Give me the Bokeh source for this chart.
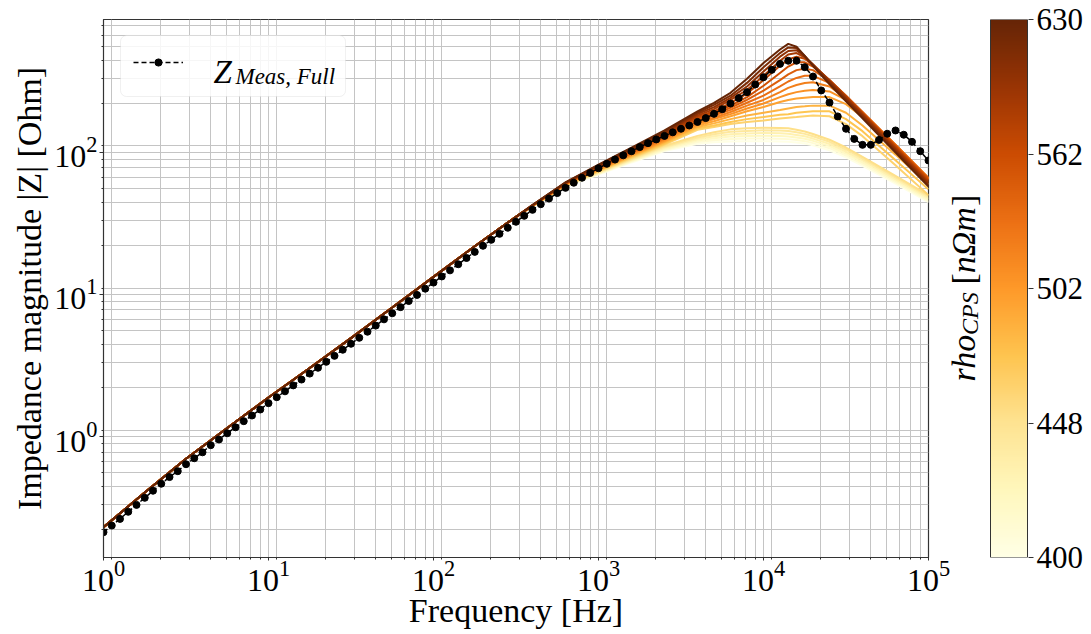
import numpy as np
from bokeh.plotting import figure
from bokeh.layouts import row
from bokeh.models import (Range1d, Legend, LegendItem, Label, LogTicker, FixedTicker,
                          PrintfTickFormatter, BoxAnnotation, LinearColorMapper)
from bokeh.palettes import YlOrBr9
from bokeh.core.properties import value
from bokeh.embed import file_html
from bokeh.resources import INLINE

# ---------------- data ----------------
# measurement: 20 points per decade from 1 Hz to 100 kHz
f_meas = np.logspace(0, 5, 101)
z_meas = [0.212, 0.236, 0.263, 0.295, 0.330, 0.370, 0.415, 0.465, 0.518, 0.570,
          0.638, 0.703, 0.774, 0.869, 0.953, 1.054, 1.161, 1.282, 1.406, 1.549,
          1.718, 1.892, 2.080, 2.291, 2.518, 2.773, 3.048, 3.357, 3.698, 4.083,
          4.498, 4.955, 5.470, 6.039, 6.683, 7.379, 8.147, 8.995, 9.931, 10.99,
          12.13, 13.40, 14.79, 16.33, 18.07, 19.95, 22.03, 24.27, 26.73, 29.51,
          32.51, 35.81, 39.45, 43.25, 47.42, 51.76, 56.36, 61.24, 66.37, 71.78,
          77.45, 83.18, 89.13, 95.50, 102.1, 109.1, 116.4, 123.6, 130.9, 138.7,
          146.9, 154.9, 164.1, 174.6, 187.1, 201.8, 221.3, 241.5, 266.1, 301.3,
          338.8, 381.9, 420.7, 442.6, 442.6, 398.9, 342.8, 273.5, 224.9, 179.5,
          146.9, 124.7, 113.2, 113.2, 122.7, 135.5, 142.9, 133.4, 118.9, 102.1,
          87.9]

# simulated curves: common low-frequency part
f_model_low = [1.0, 1.778, 3.162, 5.623, 10.0, 17.78, 31.62, 56.23, 100.0, 177.8, 316.2]
z_model_low = [0.2296, 0.4036, 0.6966, 1.148, 1.884, 3.037, 4.932, 8.091, 13.30, 21.88, 35.24]

# simulated curves: high-frequency part (one list per rho_CPS value)
f_model_high = [398.1, 631.0, 1000.0, 1585.0, 2512.0, 3981.0, 5012.0, 6310.0, 7943.0, 10000.0,
                12589.0, 14125.0, 15849.0, 17783.0, 19953.0, 25119.0, 31623.0, 39811.0,
                63096.0, 100000.0]

rho_values = [630, 615, 601, 587, 573, 559, 546, 533, 521, 508,
              496, 485, 473, 462, 451, 441, 430, 420, 410, 400]

z_630 = [42.66, 61.66, 82.22, 108.4, 142.9, 195.0, 223.9, 263.0, 331.1, 426.6, 530.9, 582.1, 555.9, 478.6, 407.4, 302.0, 229.1, 173.8, 100.0, 57.5]
z_615 = [42.56, 61.38, 81.47, 106.9, 140.3, 190.5, 216.3, 251.2, 309.0, 398.1, 501.2, 549.5, 543.3, 478.6, 412.1, 309.0, 234.4, 177.8, 102.3, 58.9]
z_601 = [42.56, 61.24, 80.91, 105.7, 138.0, 186.2, 208.9, 242.7, 291.7, 371.5, 473.1, 518.8, 524.8, 473.1, 416.9, 316.2, 239.9, 182.0, 104.7, 60.3]
z_587 = [42.46, 60.95, 80.17, 104.2, 135.5, 182.0, 201.8, 234.4, 275.4, 346.7, 441.6, 489.8, 501.2, 467.7, 416.9, 319.9, 245.5, 186.2, 107.2, 61.7]
z_573 = [42.36, 60.81, 79.43, 103.0, 133.0, 177.8, 195.0, 223.9, 260.0, 323.6, 407.4, 451.9, 473.1, 457.1, 412.1, 323.6, 248.3, 188.4, 109.6, 63.1]
z_559 = [42.36, 60.53, 78.89, 101.6, 130.9, 173.8, 190.5, 213.8, 245.5, 295.1, 363.1, 402.7, 431.5, 431.5, 402.7, 323.6, 251.2, 190.5, 110.9, 64.6]
z_546 = [42.27, 60.39, 78.16, 100.5, 128.5, 169.8, 186.2, 206.5, 234.4, 272.3, 323.6, 354.8, 380.2, 389.0, 380.2, 319.9, 251.2, 192.8, 112.2, 65.3]
z_533 = [42.27, 60.12, 77.45, 99.08, 126.5, 166.0, 182.0, 199.5, 223.9, 251.2, 291.7, 316.2, 335.0, 346.7, 346.7, 309.0, 248.3, 192.8, 113.5, 66.1]
z_521 = [42.17, 59.84, 76.91, 97.95, 124.2, 162.2, 175.8, 192.8, 213.8, 234.4, 266.1, 285.1, 298.5, 309.0, 312.6, 291.7, 242.7, 190.5, 113.5, 66.1]
z_508 = [42.07, 59.70, 76.21, 96.61, 121.9, 158.5, 171.8, 186.2, 204.2, 221.3, 245.5, 257.0, 266.1, 272.3, 275.4, 269.2, 234.4, 186.2, 112.2, 65.3]
z_496 = [42.07, 59.43, 75.51, 95.50, 119.9, 154.9, 166.0, 179.9, 195.0, 208.9, 226.5, 234.4, 239.9, 242.7, 245.5, 245.5, 218.8, 177.8, 109.6, 64.6]
z_485 = [41.98, 59.29, 74.82, 94.19, 117.8, 151.4, 160.3, 171.8, 182.0, 190.5, 199.5, 204.2, 208.9, 211.3, 213.8, 213.8, 190.5, 154.9, 96.6, 59.6]
z_473 = [41.88, 59.02, 74.30, 93.11, 115.6, 147.9, 154.9, 164.1, 171.8, 177.8, 184.1, 186.2, 190.5, 192.8, 195.0, 195.0, 171.8, 141.3, 88.1, 55.0]
z_462 = [41.88, 58.75, 73.62, 91.83, 113.8, 144.5, 151.4, 158.5, 164.1, 167.9, 173.8, 175.8, 177.8, 179.9, 182.0, 179.9, 158.5, 130.3, 81.3, 50.1]
z_451 = [41.78, 58.61, 72.95, 90.78, 111.7, 130.9, 138.7, 145.5, 147.9, 149.6, 148.9, 147.9, 144.5, 140.6, 134.9, 123.0, 108.4, 93.3, 68.4, 50.1]
z_441 = [41.78, 58.34, 72.44, 89.54, 109.9, 127.6, 134.3, 140.0, 141.9, 143.2, 142.6, 141.6, 138.7, 135.2, 130.0, 118.9, 105.0, 90.6, 66.7, 49.0]
z_430 = [41.69, 58.21, 71.78, 88.51, 107.9, 124.5, 130.0, 134.6, 136.1, 137.1, 136.5, 135.5, 133.0, 130.0, 125.3, 114.8, 101.6, 87.9, 65.0, 47.9]
z_420 = [41.59, 57.94, 71.12, 87.30, 105.9, 121.3, 125.9, 129.4, 130.6, 131.2, 130.6, 129.7, 127.6, 125.0, 120.8, 110.9, 98.4, 85.3, 63.4, 46.8]
z_410 = [41.59, 57.81, 70.63, 86.30, 104.2, 118.3, 121.9, 124.5, 125.3, 125.6, 125.0, 124.2, 122.5, 120.2, 116.4, 107.2, 95.3, 82.8, 61.8, 45.7]
z_400 = [41.50, 57.54, 69.98, 85.11, 102.3, 115.3, 118.0, 119.7, 120.2, 120.2, 119.7, 118.9, 117.5, 115.6, 112.2, 103.5, 92.3, 80.4, 60.3, 44.7]

z_model_high = [z_630, z_615, z_601, z_587, z_573, z_559, z_546, z_533, z_521, z_508,
                z_496, z_485, z_473, z_462, z_451, z_441, z_430, z_420, z_410, z_400]

cbar_ticks = [400, 448, 502, 562, 630]
rho_low, rho_high = 400, 630

# ---------------- colours ----------------
def interp_palette(pal, n):
    rgb = np.array([[int(c[i:i + 2], 16) for i in (1, 3, 5)] for c in pal], float)
    xs = np.linspace(0, 1, len(pal))
    t = np.linspace(0, 1, n)
    out = np.stack([np.interp(t, xs, rgb[:, k]) for k in range(3)], 1)
    return ["#%02x%02x%02x" % tuple(int(round(v)) for v in r) for r in out]

palette = interp_palette(list(YlOrBr9)[::-1], 256)   # light -> dark

def rho_color(r):
    t = (np.log(r) - np.log(rho_low)) / (np.log(rho_high) - np.log(rho_low))
    return palette[int(round(t * 255))]

SERIF = "Liberation Serif"

# ---------------- main figure ----------------
p = figure(width=950, height=634, x_axis_type="log", y_axis_type="log",
           x_range=Range1d(1, 1e5), y_range=Range1d(0.1406, 864),
           output_backend="svg", toolbar_location=None,
           min_border_left=103, min_border_right=22, min_border_top=19, min_border_bottom=77,
           background_fill_color="white", border_fill_color="white")

p.outline_line_color = "#333333"
p.outline_line_width = 1.2

for ax in (p.xaxis[0], p.yaxis[0]):
    ax.ticker = LogTicker(num_minor_ticks=9)
    ax.major_label_text_font = SERIF
    ax.major_label_text_font_size = "32px"
    ax.major_label_text_color = "black"
    ax.axis_label_text_font = SERIF
    ax.axis_label_text_font_size = "34px"
    ax.axis_label_text_font_style = "normal"
    ax.axis_label_text_color = "black"
    ax.axis_line_color = "#333333"
    ax.major_tick_line_color = "#333333"
    ax.minor_tick_line_color = "#333333"
    ax.major_tick_in = 0
    ax.minor_tick_out = 2
    ax.minor_tick_in = 0

p.xaxis.major_tick_out = 3
p.xaxis.major_label_standoff = 0
p.yaxis.major_tick_out = 4
p.yaxis.major_label_standoff = 2

p.xaxis.axis_label = "Frequency [Hz]"
p.yaxis.axis_label = "Impedance magnitude |Z| [Ohm]"
p.xaxis.axis_label_standoff = -2
p.yaxis.axis_label_standoff = 3

for g in (p.xgrid[0], p.ygrid[0]):
    g.grid_line_color = "#c4c4c4"
    g.grid_line_width = 1
    g.minor_grid_line_color = "#c4c4c4"
    g.minor_grid_line_width = 1

# legend frame (drawn just above the grid)
p.add_layout(BoxAnnotation(left=1.268, right=29.3, bottom=247.9, top=666.8,
                           fill_color="white", fill_alpha=0.85,
                           line_color="#cccccc", line_width=1, border_radius=6,
                           level="underlay"))

# simulated curves: light first, dark on top
for r, zh in sorted(zip(rho_values, z_model_high)):
    p.line(f_model_low + f_model_high, z_model_low + zh,
           line_color=rho_color(r), line_width=2.0)

meas_line = p.line(f_meas, z_meas, line_color="black", line_width=1.5, line_dash="5 3")
meas_pts = p.scatter(f_meas, z_meas, size=7, fill_color="black", line_color="black")

legend = Legend(items=[LegendItem(label=" ", renderers=[meas_line, meas_pts])],
                location="top_left", margin=30, padding=0, spacing=0,
                glyph_width=50, glyph_height=18, label_height=26, label_width=60,
                label_standoff=10, border_line_color=None,
                background_fill_alpha=0)
p.add_layout(legend)

p.add_layout(Label(x=4.64, y=370, text="Z", text_font=SERIF, text_font_style="italic",
                   text_font_size="33px", text_color="black", text_align="left",
                   text_baseline="alphabetic", level="overlay"))
p.add_layout(Label(x=6.31, y=341, text="Meas, Full", text_font=SERIF, text_font_style="italic",
                   text_font_size="23px", text_color="black", text_align="left",
                   text_baseline="alphabetic", level="overlay"))

# ---------------- colour bar (own small figure, slightly overlapping) ----------------
p2 = figure(width=161, height=634, y_axis_type="log",
            x_range=Range1d(0, 98), y_range=Range1d(rho_low, rho_high),
            x_axis_location=None, y_axis_location="right",
            output_backend="svg", toolbar_location=None,
            min_border_left=0, min_border_right=63, min_border_top=19, min_border_bottom=71,
            background_fill_color=None, border_fill_color=None)
p2.margin = (0, 0, 0, -20)
p2.outline_line_color = None
p2.grid.visible = False

gradient = np.arange(len(palette), dtype=float).reshape(len(palette), 1)
p2.image(image=[gradient], x=60, y=rho_low, dw=37, dh=rho_high - rho_low,
         color_mapper=LinearColorMapper(palette=palette, low=0, high=len(palette) - 1))
p2.quad(left=60, right=97, bottom=rho_low, top=rho_high,
        fill_color=None, line_color="#333333", line_width=1)

cax = p2.yaxis[0]
cax.ticker = FixedTicker(ticks=cbar_ticks, minor_ticks=[])
cax.formatter = PrintfTickFormatter(format="%d")
cax.major_label_text_font = SERIF
cax.major_label_text_font_size = "31px"
cax.major_label_text_color = "black"
cax.axis_line_color = None
cax.major_tick_in = 0
cax.major_tick_out = 5
cax.major_tick_line_color = "#333333"
cax.minor_tick_line_color = None
cax.major_label_standoff = 3

ang = np.pi / 2
def vtext(x, y, txt, size, style):
    p2.text(x=[x], y=[y], text=[txt], angle=ang, text_font=value(SERIF),
            text_font_style=style, text_font_size=size, text_color="black",
            text_align="left", text_baseline="alphabetic")

vtext(33, 464.1, "rho", "34px", "italic")
vtext(39, 482.7, "CPS", "24px", "italic")
vtext(33, 503.7, "[", "34px", "normal")
vtext(33, 508.5, "nΩm", "34px", "italic")
vtext(33, 538.2, "]", "34px", "normal")

open("out.html", "w").write(file_html(row(p, p2), INLINE))
